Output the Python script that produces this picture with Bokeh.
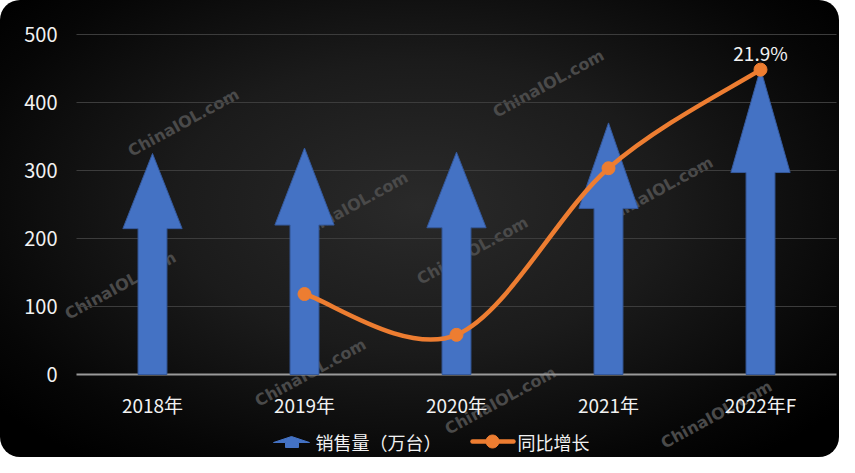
import math
from bokeh.plotting import figure
from bokeh.models import Range1d, Label, PolyAnnotation, Arrow, ColumnDataSource
from bokeh.core.properties import value
from bokeh.embed import file_html
from bokeh.resources import INLINE

# ---- data ----
categories = ["2018年", "2019年", "2020年", "2021年", "2022年F"]
sales = [325, 333, 327, 370, 450]            # 销售量（万台）
growth_years = ["2019年", "2020年", "2021年", "2022年F"]
growth = [2.1, -1.5, 13.2, 21.9]             # 同比增长 (%)
growth_labels = ["", "", "", "21.9%"]
y_ticks = [0, 100, 200, 300, 400, 500]
y_tick_labels = ["0", "100", "200", "300", "400", "500"]
pct_min, pct_max = -5, 25                     # hidden secondary axis (maps to 0..500)

FONT = "Noto Sans CJK SC"
BLUE = "#4472C4"
ORANGE = "#ED7D31"
TXT = "#F2F2F2"

W, H = 839, 457
X0_PX, CAT_PX = 76, 152                       # pixel column of plot start, width per category
Y0_PX, Y500_PX = 374, 34                      # pixel rows of value 0 and 500
ppu = (Y0_PX - Y500_PX) / 500.0
y_top = 500 + Y500_PX / ppu
y_bot = -(H - Y0_PX) / ppu
x_left = -X0_PX / CAT_PX
x_right = (W - X0_PX) / CAT_PX
k = (pct_max - pct_min) / 500.0

p = figure(width=W, height=H, output_backend="svg", toolbar_location=None,
           x_range=Range1d(x_left, x_right), y_range=Range1d(y_bot, y_top),
           min_border_left=0, min_border_right=0, min_border_top=0, min_border_bottom=0)
p.extra_y_ranges = {"pct": Range1d(pct_min + y_bot * k, pct_min + y_top * k)}
p.background_fill_alpha = 0
p.border_fill_alpha = 0
p.outline_line_color = None
p.axis.visible = False
p.grid.visible = False
p.styles = {"border-radius": "20px", "overflow": "hidden",
            "background": "radial-gradient(ellipse 65% 70% at 50% 45%, #2a2a2a 0%, #1b1b1b 45%, #060606 85%, #000000 100%)"}

ncat = len(categories)
xpos = [i + 0.5 for i in range(ncat)]


def fx(px):
    return px


def fy(py):
    return H - py


# watermarks
wm_centers = [(183, 122), (548, 83), (120, 285), (352, 205), (472, 250),
              (657, 190), (310, 372), (500, 400), (716, 414)]
for cx, cy in wm_centers:
    p.add_layout(Label(x=fx(cx), y=fy(cy), x_units="screen", y_units="screen",
                       text="ChinaIOL.com", text_align="center", text_baseline="middle",
                       angle=0.5, text_font="DejaVu Sans", text_font_style="bold",
                       text_font_size="16px", text_color="#4a4a4a", level="underlay"))

# grid lines, y labels
grid_t = [t for t in y_ticks if t > 0]
p.segment(x0=[0] * len(grid_t), y0=grid_t, x1=[ncat] * len(grid_t), y1=grid_t,
          line_color="#3c3c3c", line_width=1)
p.text([0] * len(y_ticks), y_ticks, text=y_tick_labels, text_align="right", text_baseline="middle",
       x_offset=-19, text_color=TXT, text_font=value(FONT), text_font_size="20px")

# x axis line and category labels
p.segment(x0=[0], y0=[0], x1=[ncat], y1=[0], line_color="#9a9a9a", line_width=2)
p.text(xpos, [0] * ncat, text=categories, text_align="center", text_baseline="middle",
       y_offset=30, text_color=TXT, text_font=value(FONT), text_font_size="19px")

# arrows
shaft_w, head_w, head_frac = 0.19, 0.39, 0.34
xs, ys = [], []
for c, v in zip(xpos, sales):
    hb = v * (1 - head_frac)
    xs.append([c - shaft_w / 2, c - shaft_w / 2, c - head_w / 2, c, c + head_w / 2, c + shaft_w / 2, c + shaft_w / 2])
    ys.append([0, hb, hb, v, hb, hb, 0])
p.patches(xs, ys, fill_color=BLUE, line_color="#35599c", line_width=1)

# smooth growth line (Catmull-Rom style bezier through the points)
gx = [xpos[categories.index(y)] for y in growth_years]
pts = list(zip(gx, growth))
n = len(pts)
bz = dict(x0=[], y0=[], x1=[], y1=[], cx0=[], cy0=[], cx1=[], cy1=[])
for i in range(n - 1):
    p0 = pts[max(i - 1, 0)]
    p1 = pts[i]
    p2 = pts[i + 1]
    p3 = pts[min(i + 2, n - 1)]
    bz["x0"].append(p1[0]); bz["y0"].append(p1[1])
    bz["x1"].append(p2[0]); bz["y1"].append(p2[1])
    bz["cx0"].append(p1[0] + (p2[0] - p0[0]) / 6); bz["cy0"].append(p1[1] + (p2[1] - p0[1]) / 6)
    bz["cx1"].append(p2[0] - (p3[0] - p1[0]) / 6); bz["cy1"].append(p2[1] - (p3[1] - p1[1]) / 6)
p.bezier(source=ColumnDataSource(bz), x0="x0", y0="y0", x1="x1", y1="y1",
         cx0="cx0", cy0="cy0", cx1="cx1", cy1="cy1",
         line_color=ORANGE, line_width=4.5, line_cap="round", y_range_name="pct")
p.scatter(gx, growth, size=13, fill_color=ORANGE, line_color=ORANGE, y_range_name="pct")
p.text(gx, growth, text=growth_labels, text_align="center", text_baseline="alphabetic",
       y_offset=-17, text_color=TXT, text_font=value(FONT), text_font_size="19px",
       y_range_name="pct")

# legend
ix = [285, 285, 273, 291, 309, 298, 298]
iy = [447, 442, 442, 436, 442, 442, 447]
p.add_layout(PolyAnnotation(xs=[fx(x) for x in ix], ys=[fy(y) for y in iy],
                            xs_units="screen", ys_units="screen",
                            fill_color=BLUE, fill_alpha=1, line_color=BLUE, line_alpha=1))
p.add_layout(Label(x=fx(315), y=fy(441), x_units="screen", y_units="screen",
                   text="销售量（万台）", text_baseline="middle", text_color=TXT,
                   text_font=FONT, text_font_size="18px"))
p.add_layout(Arrow(end=None, x_start=fx(472), y_start=fy(441), x_end=fx(513), y_end=fy(441),
                   start_units="screen", end_units="screen",
                   line_color=ORANGE, line_width=4.5, line_cap="round"))
ang = [2 * math.pi * j / 24 for j in range(24)]
p.add_layout(PolyAnnotation(xs=[fx(492) + 6.5 * math.cos(a) for a in ang],
                            ys=[fy(441) + 6.5 * math.sin(a) for a in ang],
                            xs_units="screen", ys_units="screen",
                            fill_color=ORANGE, fill_alpha=1, line_color=ORANGE, line_alpha=1))
p.add_layout(Label(x=fx(517), y=fy(441), x_units="screen", y_units="screen",
                   text="同比增长", text_baseline="middle", text_color=TXT,
                   text_font=FONT, text_font_size="18px"))

open("out.html", "w").write(file_html(p, INLINE))
